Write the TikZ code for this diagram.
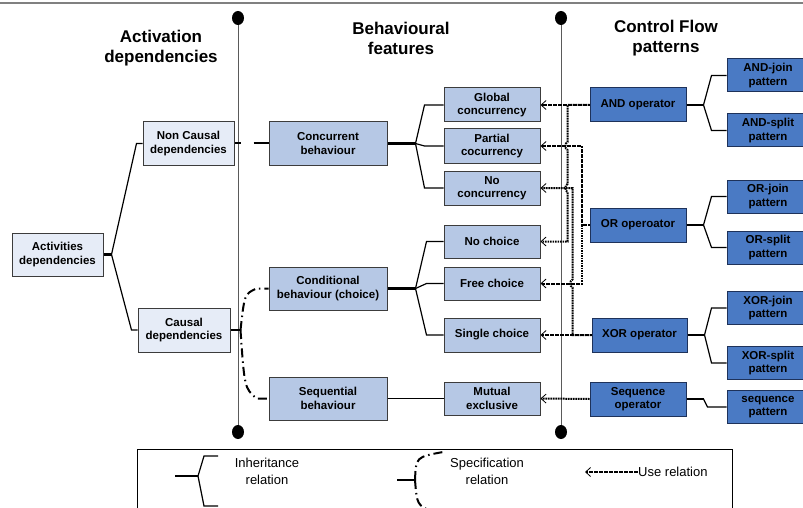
\documentclass[tikz,border=0pt]{standalone}
\usepackage{fontspec}
\setmainfont{Liberation Sans}
\usetikzlibrary{arrows.meta,calc}
\definecolor{LightClr}{RGB}{230,236,247}
\definecolor{MidClr}{RGB}{182,200,229}
\definecolor{DarkClr}{RGB}{74,122,196}
\definecolor{EdgeClr}{RGB}{60,60,60}
\definecolor{DarkEdgeClr}{RGB}{30,50,90}
\definecolor{SepClr}{RGB}{90,90,90}

\begin{document}
\begin{tikzpicture}[x=1pt,y=-1pt,
  box/.style={draw=EdgeClr,line width=1pt,align=center,inner sep=0pt,
    font=\bfseries\fontsize{11.5}{13.5}\selectfont},
  lightbox/.style={box,fill=LightClr,minimum width=91pt,minimum height=43pt},
  midbox/.style={box,fill=MidClr,minimum width=118pt,minimum height=43pt},
  featbox/.style={box,fill=MidClr,minimum width=96pt,minimum height=34pt},
  opbox/.style={box,fill=DarkClr,draw=DarkEdgeClr,minimum width=96pt,minimum height=34pt},
  patbox/.style={box,fill=DarkClr,draw=DarkEdgeClr,minimum width=82pt,minimum height=33pt},
  title/.style={align=center,font=\bfseries\fontsize{17}{20}\selectfont},
  legtext/.style={align=center,inner sep=0pt,font=\fontsize{13}{17}\selectfont},
  stub/.style={line width=2.4pt},
  branch/.style={line width=1.2pt},
  specrel/.style={line width=2pt,dash pattern=on 9pt off 4pt on 1.5pt off 4pt},
  userel/.style={line width=2pt,dash pattern=on 1.6pt off 0.9pt,
    -{Straight Barb[length=5pt,width=9pt,line width=0.8pt]}},
  sepline/.style={draw=SepClr,line width=0.9pt}]
\useasboundingbox (0,0) rectangle (803,508);

% top rule and the two separators
\draw[gray,line width=2pt] (0,3) -- (803,3);
\coordinate (s1t) at (238,18); \coordinate (s1b) at (238,432);
\coordinate (s2t) at (561,18); \coordinate (s2b) at (561,432);
\draw[sepline] (s1t) -- (s1b);
\draw[sepline] (s2t) -- (s2b);
\foreach \s in {s1t,s1b,s2t,s2b}
  \fill (\s) ellipse [x radius=6pt,y radius=7pt];

% titles
\node[title] (actt) at (161,48) {Activation\\dependencies};
\node[title] (beht) at (401,38) {Behavioural\\features};
\node[title] (cflt) at (666,38) {Control Flow\\patterns};

% activation dependencies
\node[lightbox] (act) at (57.5,254.5) {Activities\\dependencies};
\node[lightbox] (nc) at (188.5,143.5) {Non Causal\\dependencies};
\node[lightbox,minimum width=92pt,minimum height=44pt] (cd) at (184,330) {Causal\\dependencies};

% behavioural features
\node[midbox] (conc) at (328,143.5) {Concurrent\\behaviour};
\node[midbox] (cond) at (328,288.5) {Conditional\\behaviour (choice)};
\node[midbox] (seq) at (328,398.5) {Sequential\\behaviour};

\node[featbox] (glob) at (492,105) {Global\\concurrency};
\node[featbox] (part) at (492,146) {Partial\\cocurrency};
\node[featbox] (nocon) at (492,188) {No\\concurrency};
\node[featbox,minimum height=33pt] (noch) at (492,241.5) {No choice};
\node[featbox,minimum height=33pt] (free) at (492,283.5) {Free choice};
\node[featbox] (single) at (492,335) {Single choice};
\node[featbox,minimum height=33pt] (mutual) at (492,398.5) {Mutual\\exclusive};

% control flow patterns
\node[opbox] (andop) at (638,105) {AND operator};
\node[opbox] (orop) at (638,225) {OR operoator};
\node[opbox,minimum width=95pt] (xorop) at (639.5,335) {XOR operator};
\node[opbox] (seqop) at (638,399) {Sequence\\operator};

\node[patbox] (andj) at (768,75.5) {AND-join\\pattern};
\node[patbox] (ands) at (768,130.5) {AND-split\\pattern};
\node[patbox] (orj) at (768,196.5) {OR-join\\pattern};
\node[patbox] (ors) at (768,247.5) {OR-split\\pattern};
\node[patbox] (xorj) at (768,308) {XOR-join\\pattern};
\node[patbox] (xors) at (768,363) {XOR-split\\pattern};
\node[patbox] (seqp) at (768,407) {sequence\\pattern};

% inheritance relations
\draw[stub] (act.east) -- ++(8,0) coordinate (fa);
\foreach \p in {nc,cd}
  \draw[branch] (fa) -- ($(\p.west)+(-6,0)$) -- (\p.west);
\draw[stub] (conc.east) -- ++(28,0) coordinate (fc);
\foreach \p in {glob,part,nocon}
  \draw[branch] (fc) -- ($(\p.west)+(-19,0)$) -- (\p.west);
\draw[stub] (cond.east) -- ++(28,0) coordinate (fd);
\foreach \p in {noch,free,single}
  \draw[branch] (fd) -- ($(\p.west)+(-17,0)$) -- (\p.west);
\draw[branch] (seq.east) -- (mutual.west);
\foreach \o/\a/\b in {andop/andj/ands,orop/orj/ors,xorop/xorj/xors}{
  \draw[stub] (\o.east) -- ++(17,0) coordinate (f\o);
  \draw[branch] (\a.west) -- ++(-15,0) -- (f\o) -- ($(\b.west)+(-15,0)$) -- (\b.west);
}
\draw[stub] (seqop.east) -- ++(17,0) coordinate (fs);
\draw[branch] (fs) -- ($(seqp.west)+(-19,0)$) -- (seqp.west);

% non causal / causal specification
\draw[line width=2pt,dash pattern=on 6pt off 13pt on 16pt off 0pt] (nc.east) -- (conc.west);
\draw[stub] (cd.east) -- ++(10,0) coordinate (fsp);
\draw[specrel] (fsp) .. controls ($(fsp)+(4,-36)$) .. ($(cond.west)+(-12,0)$) -- (cond.west);
\draw[specrel] (fsp) .. controls ($(fsp)+(4,58)$) .. ($(seq.west)+(-12,0)$) -- (seq.west);

% use relations (with small jumps where lines cross)
\draw[userel] (andop.west) -- (glob.east);
\draw[userel] (andop.west) -- ++(-22,0) coordinate (ua)
  -- ($(ua|-part.east)+(0,-4)$) to[bend right=70] ($(ua|-part.east)+(0,4)$)
  -- ($(ua|-nocon.east)+(0,-4)$) to[bend right=70] ($(ua|-nocon.east)+(0,4)$)
  |- (noch.east);
\draw[userel] (orop.west) -- ++(-8,0) coordinate (uo) |- (part.east);
\draw[userel] (uo) |- (free.east);
\draw[userel] (xorop.west) -- (single.east);
\draw[userel] (xorop.west) -- ++(-19,0) coordinate (ux)
  -- ($(ux|-free.east)+(0,4)$) to[bend left=70] ($(ux|-free.east)+(0,-4)$)
  |- (nocon.east);
\draw[userel] (seqop.west) -- (mutual.east);

% legend
\draw[line width=0.8pt] (137,449) rectangle (732,530);
\draw[stub] (175,476) -- (198,476) coordinate (li);
\draw[branch] (218,456) -- (204,456) -- (li) -- (204,506) -- (218,506);
\node[legtext] (inht) at (267,471.5) {Inheritance\\relation};
\draw[stub] (397,480) -- (415,480) coordinate (ls);
\draw[specrel] (ls) .. controls (416,457) .. (443,452);
\draw[specrel] (ls) .. controls (417,505) .. (433,512);
\node[legtext] (spect) at (487,471) {Specification\\relation};
\coordinate (lu) at (585,472);
\node[legtext,anchor=west] (uset) at (638,472) {Use relation};
\draw[userel] (uset.west) -- (lu);
\end{tikzpicture}
\end{document}
